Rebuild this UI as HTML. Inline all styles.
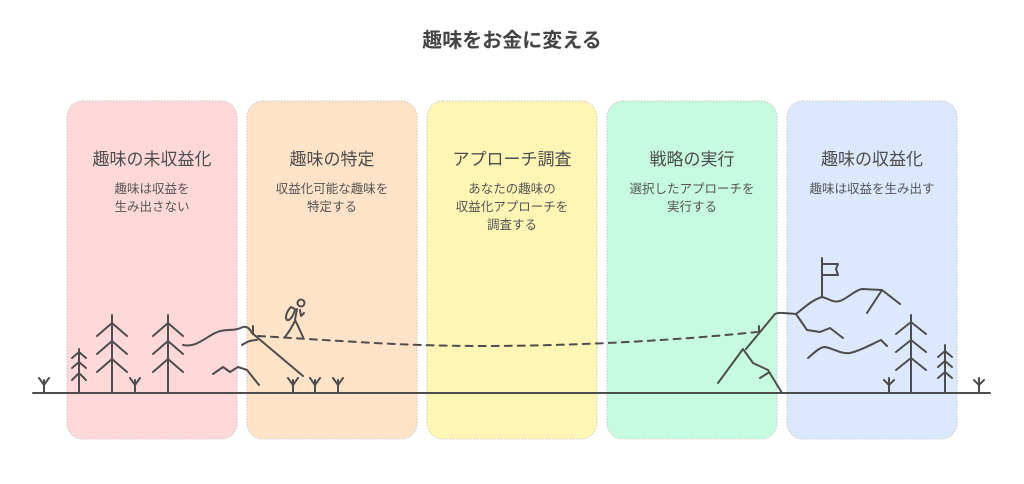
<!DOCTYPE html>
<html><head><meta charset="utf-8"><style>
html,body{margin:0;padding:0;background:#fff}
svg{display:block}
text{font-family:"Liberation Sans","Noto Sans CJK JP",sans-serif;fill:#4d4d4d;text-anchor:middle}
.t{font-size:17px}
.s{font-size:12.5px;fill:#555}
.l{fill:none;stroke:#4d4d4d;stroke-width:2;stroke-linecap:round;stroke-linejoin:round}
</style></head><body>
<svg width="1024" height="484" viewBox="0 0 1024 484">
<text x="512" y="47" style="font-size:20px;font-weight:bold;fill:#444">趣味をお金に変える</text>
<g stroke="#bbb" stroke-width="0.8" stroke-dasharray="1.5 1.5">
<rect x="67" y="101" width="170" height="338" rx="16" fill="#ffd9d9"/>
<rect x="247" y="101" width="170" height="338" rx="16" fill="#ffe3c9"/>
<rect x="427" y="101" width="170" height="338" rx="16" fill="#fff6b6"/>
<rect x="607" y="101" width="170" height="338" rx="16" fill="#c7fbe1"/>
<rect x="787" y="101" width="170" height="338" rx="16" fill="#dce8fd"/>
</g>
<text class="t" x="152" y="165">趣味の未収益化</text>
<text class="s" x="152" y="193">趣味は収益を</text>
<text class="s" x="152" y="211">生み出さない</text>
<text class="t" x="332" y="165">趣味の特定</text>
<text class="s" x="332" y="193">収益化可能な趣味を</text>
<text class="s" x="332" y="211">特定する</text>
<text class="t" x="512" y="165">アプローチ調査</text>
<text class="s" x="512" y="193">あなたの趣味の</text>
<text class="s" x="512" y="211">収益化アプローチを</text>
<text class="s" x="512" y="229">調査する</text>
<text class="t" x="692" y="165">戦略の実行</text>
<text class="s" x="692" y="193">選択したアプローチを</text>
<text class="s" x="692" y="211">実行する</text>
<text class="t" x="872" y="165">趣味の収益化</text>
<text class="s" x="872" y="193">趣味は収益を生み出す</text>

<g class="l">
<path d="M33 393 H990"/>
<path d="M44 393V380M39 378L44 385L49 378"/>
<path d="M135 393V380M130 378L135 385L140 378"/>
<path d="M293 393V380M288 378L293 385L298 378"/>
<path d="M315 393V380M310 378L315 385L320 378"/>
<path d="M338 393V380M333 378L338 385L343 378"/>
<path d="M889 393V378M884 380L889 385L894 380"/>
<path d="M979 393V378M974 380L979 385L984 380"/>
<path d="M79 393V349M72 358L79 352L86 358M72 368L79 362L86 368M72 380L79 373L86 380"/>
<path d="M112 393V315M97 336L112 323L127 336M97 354L112 341L127 354M97 372L112 359L127 372"/>
<path d="M168 393V315M153 336L168 323L183 336M153 354L168 341L183 354M153 372L168 359L183 372"/>
<path d="M911 393V315M896 334L911 322L926 334M896 352L911 340L926 352M896 370L911 358L926 370"/>
<path d="M945 393V345M938 357L945 351L952 357M938 367L945 361L952 367M938 378L945 372L952 378"/>
<path d="M183 345C195 348 205 338 215 333C225 328 233 332 243 327C247 326 250 329 252 333L303 376"/>
<path d="M242 345C248 341 252 340 257 340"/>
<path d="M213 374L223 367L230 372L238 367L247 370L259 385"/>
<path d="M253 326V334"/>
<path d="M258 336C330 340 400 346 480 346C580 346 680 340 757 332" stroke-dasharray="7 6"/>
<circle cx="301" cy="303" r="3.5"/>
<path d="M291 307C286 312 285 318 287 320C290 321 294 315 295 309Z"/>
<path d="M297 309L295 320L298 326L303 337M295 321L290 330L285 337"/>
<path d="M300 310L301 316L304 313"/>
<path d="M718 383L743 349L753 363L768 370L782 393"/>
<path d="M746 349L775 314C778 312 785 313 796 314L807 330L820 332L830 328L843 338"/>
<path d="M796 314C805 307 812 300 822 297C830 299 833 303 840 301C848 298 855 290 862 289L882 290L900 304"/>
<path d="M882 290L867 313"/>
<path d="M808 358C815 352 820 347 825 347C835 349 840 354 850 353C860 351 872 344 881 340L887 346"/>
<path d="M760 378L768 373"/>
<path d="M759 326V333"/>
<path d="M822 297V258M822 264H838L836 269L838 275H822"/>
</g>
</svg>
</body></html>
